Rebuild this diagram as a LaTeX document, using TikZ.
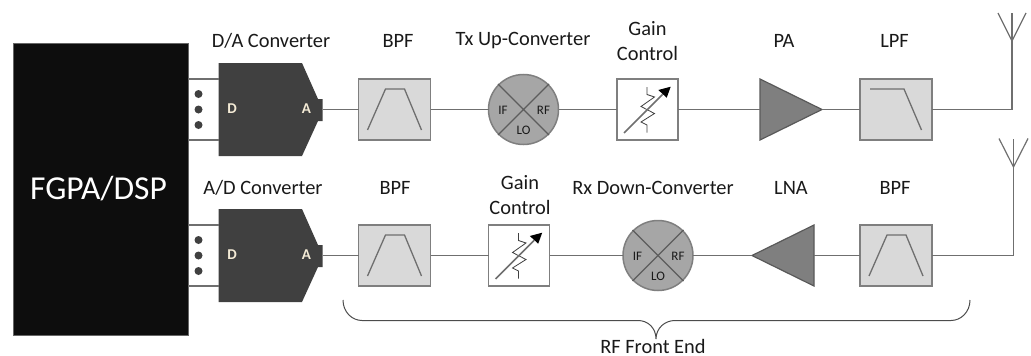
\documentclass[tikz,border=0pt]{standalone}
\usepackage{fontspec}
\setmainfont{Carlito}
\definecolor{wiregray}{HTML}{6F6F6F}
\definecolor{boxgray}{HTML}{7F7F7F}
\definecolor{fillgray}{HTML}{D9D9D9}
\definecolor{mixgray}{HTML}{A6A6A6}
\definecolor{convgray}{HTML}{404040}
\definecolor{blockblack}{HTML}{0D0D0D}
\definecolor{pingold}{HTML}{F4EBD6}
\tikzset{
  wire/.style={draw=wiregray,line width=1.2pt},
  curveline/.style={draw=wiregray,line width=1.3pt},
  filterbox/.style={draw=boxgray,fill=fillgray,line width=1.5pt,minimum width=72pt,minimum height=61pt,inner sep=0pt,outer sep=0pt},
  gainbox/.style={draw=boxgray,fill=white,line width=1.5pt,minimum width=61pt,minimum height=61pt,inner sep=0pt,outer sep=0pt},
  mixer/.style={circle,draw=boxgray,fill=mixgray,line width=1.5pt,minimum size=70pt,inner sep=0pt,outer sep=0pt},
  shapeslot/.style={inner sep=0pt,outer sep=0pt,minimum height=61pt},
  caption/.style={text=black!90,font=\fontsize{20.4}{25}\selectfont,align=center,inner sep=0pt},
  mixlabel/.style={text=black!90,font=\fontsize{13}{13}\selectfont,inner sep=0pt},
  pinlabel/.style={text=pingold,font=\fontsize{15}{15}\selectfont\bfseries,inner sep=0pt},
  portdot/.style={circle,fill=convgray,minimum size=8pt,inner sep=0pt}
}
% filter curves, drawn inside a box
\newcommand{\bandcurve}[1]{\draw[curveline,shift={(#1.center)}] (-27,20.5) -- (-9,-20.5) -- (10,-20.5) -- (27,20.5);}
\newcommand{\lowcurve}[1]{\draw[curveline,shift={(#1.center)}] (-26,-20.5) -- (8,-20.5) -- (25.5,20.5);}
% variable gain symbol
\newcommand{\gainsym}[1]{
  \draw[black!75,line width=0.8pt,shift={(#1.center)}] (-0.5,-22.5) -- (-0.5,-15) -- (7,-12.5) -- (-6.5,-3) -- (7,4) -- (-6.5,12.5) -- (-0.5,15.5) -- (-0.5,23);
  \draw[wiregray,line width=1.5pt,shift={(#1.center)}] (-23.5,23.5) -- (15,-15);
  \fill[black,shift={(#1.center)}] (23.2,-22.8) -- (19.2,-11.8) -- (10.8,-19.5) -- cycle;
}
% converter body, pins and port dots
\newcommand{\convbody}[1]{
  \fill[convgray,shift={(#1.center)}] (-52,-46.5) -- (31.5,-46.5) -- (47.5,-10.5) -- (52,-10.5) -- (52,11.5) -- (47.5,11.5) -- (31.5,46.5) -- (-52,46.5) -- cycle;
  \node[pinlabel] (#1d) at ([shift={(-38.5,-0.5)}]#1.center) {D};
  \node[pinlabel] (#1a) at ([shift={(36,-0.5)}]#1.center) {A};
  \foreach \dy in {-15.5,0,15.5}
    \node[portdot] (#1dot\dy) at ([shift={(-72,\dy)}]#1.center) {};
}
% mixer cross and port names
\newcommand{\mixcross}[1]{
  \draw[convgray!85,line width=1.2pt,shift={(#1.center)}] (-25.5,-25.5) -- (25.5,25.5) (25.5,-25.5) -- (-25.5,25.5);
  \node[mixlabel] (#1if) at ([shift={(-20.5,0.5)}]#1.center) {IF};
  \node[mixlabel] (#1rf) at ([shift={(20,0.5)}]#1.center) {RF};
  \node[mixlabel] (#1lo) at ([shift={(0,20.5)}]#1.center) {LO};
}
\begin{document}
\begin{tikzpicture}[x=1pt,y=-1pt]
  \useasboundingbox (0,0) rectangle (1031,356);

  \node[fill=blockblack,draw=black!60,line width=0.5pt,minimum width=175pt,minimum height=292pt,inner sep=0pt,outer sep=0pt] (fpga) at (100.5,189) {};
  \node[text=white,font=\fontsize{33.5}{36}\selectfont,inner sep=0pt] (fpgacap) at (98.5,189) {FGPA/DSP};

  % transmit row
  \node[shapeslot,minimum width=104pt] (dac) at (270.5,109.5) {};
  \node[filterbox] (txbpf) at (394.5,109.5) {};
  \node[mixer] (upmix) at (523.5,109.5) {};
  \node[gainbox] (txgain) at (647.5,109.5) {};
  \node[shapeslot,minimum width=62pt] (pa) at (791,109.5) {};
  \node[filterbox] (lpf) at (896,109.5) {};
  \coordinate (txcorner) at (1012,109.5);
  \coordinate (txant) at (1012,41);
  \coordinate (txtop) at (1012,13);

  \convbody{dac}
  \bandcurve{txbpf}
  \mixcross{upmix}
  \gainsym{txgain}
  \lowcurve{lpf}
  \draw[wire,fill=boxgray,draw=black!65] (pa.north west) -- (pa.east) -- (pa.south west) -- cycle;

  \draw[wire] (dac.east) -- (txbpf.west);
  \draw[wire] (txbpf.east) -- (upmix.west);
  \draw[wire] (upmix.east) -- (txgain.west);
  \draw[wire] (txgain.east) -- (pa.west);
  \draw[wire] (pa.east) -- (lpf.west);
  \draw[wire] (lpf.east) -- (txcorner) -- (txtop);
  \draw[wire] (998,13) -- (txant) -- (1026,13);
  \draw[wire] (fpga.east |- dac.north) -- (dac.north west);
  \draw[wire] (fpga.east |- dac.south) -- (dac.south west);

  % receive row
  \node[shapeslot,minimum width=104pt] (adc) at (270.5,255.5) {};
  \node[filterbox] (rxbpf) at (394.5,255.5) {};
  \node[gainbox] (rxgain) at (519,255.5) {};
  \node[mixer] (downmix) at (658,255.5) {};
  \node[shapeslot,minimum width=62pt] (lna) at (783,255.5) {};
  \node[filterbox] (inbpf) at (896,255.5) {};
  \coordinate (rxcorner) at (1013.5,255.5);
  \coordinate (rxant) at (1013.5,167);
  \coordinate (rxtop) at (1013.5,138.5);

  \convbody{adc}
  \bandcurve{rxbpf}
  \gainsym{rxgain}
  \mixcross{downmix}
  \bandcurve{inbpf}
  \draw[wire,fill=boxgray,draw=black!65] (lna.north east) -- (lna.west) -- (lna.south east) -- cycle;

  \draw[wire] (adc.east) -- (rxbpf.west);
  \draw[wire] (rxbpf.east) -- (rxgain.west);
  \draw[wire] (rxgain.east) -- (downmix.west);
  \draw[wire] (downmix.east) -- (lna.west);
  \draw[wire] (lna.east) -- (inbpf.west);
  \draw[wire] (inbpf.east) -- (rxcorner) -- (rxtop);
  \draw[wire] (999,138.5) -- (rxant) -- (1028,138.5);
  \draw[wire] (fpga.east |- adc.north) -- (adc.north west);
  \draw[wire] (fpga.east |- adc.south) -- (adc.south west);

  % captions
  \node[caption] (daccap) at (271,41) {D/A Converter};
  \node[caption] (txbpfcap) at (398,41) {BPF};
  \node[caption] (upmixcap) at (523,41) {Tx Up-Converter};
  \node[caption] (txgaincap) at (647.5,41.5) {Gain\\Control};
  \node[caption] (pacap) at (784,41) {PA};
  \node[caption] (lpfcap) at (894.5,41) {LPF};
  \node[caption] (adccap) at (263,188) {A/D Converter};
  \node[caption] (rxbpfcap) at (395,188) {BPF};
  \node[caption] (rxgaincap) at (520,195.5) {Gain\\Control};
  \node[caption] (downmixcap) at (653,188) {Rx Down-Converter};
  \node[caption] (lnacap) at (791,188) {LNA};
  \node[caption] (inbpfcap) at (895,188) {BPF};

  % front end brace
  \draw[black!70,line width=1pt] (343,300) .. controls (343,312) and (352,320.5) .. (362,320.5) -- (638,320.5)
    .. controls (648,320.5) and (656,328) .. (656,339) .. controls (656,328) and (665,320.5) .. (675,320.5)
    -- (951,320.5) .. controls (961,320.5) and (970,312) .. (970,300);
  \node[caption] (frontend) at (653,346) {RF Front End};
\end{tikzpicture}
\end{document}
